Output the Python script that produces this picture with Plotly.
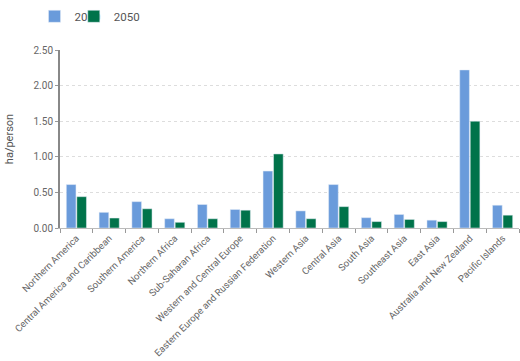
import plotly.graph_objects as go

regions = ["Northern America", "Central America and Caribbean", "Southern America",
           "Northern Africa", "Sub-Saharan Africa", "Western and Central Europe",
           "Eastern Europe and Russian Federation", "Western Asia", "Central Asia",
           "South Asia", "Southeast Asia", "East Asia", "Australia and New Zealand",
           "Pacific Islands"]
values_2000 = [0.61, 0.22, 0.37, 0.13, 0.33, 0.26, 0.80, 0.24, 0.61, 0.145, 0.19, 0.11, 2.22, 0.32]
values_2050 = [0.44, 0.14, 0.27, 0.08, 0.13, 0.25, 1.04, 0.13, 0.30, 0.09, 0.12, 0.09, 1.50, 0.18]
y_ticks = [0, 0.5, 1.0, 1.5, 2.0, 2.5]

fig = go.Figure()
fig.add_trace(go.Bar(name="2000", x=regions, y=values_2000, marker_color="#6a9bdb", legend="legend2"))
fig.add_trace(go.Bar(name="2050", x=regions, y=values_2050, marker_color="#00734a", legend="legend3"))

font_color = "#666666"
leg_common = dict(orientation="h", xref="paper", yref="container",
                  y=0.995, xanchor="left", yanchor="top",
                  font=dict(size=11.5, color="#555555"), itemwidth=30,
                  bgcolor="rgba(0,0,0,0)")
fig.update_layout(
    width=520, height=361,
    margin=dict(l=60, r=1, t=50, b=133),
    paper_bgcolor="white", plot_bgcolor="white",
    font=dict(family="Roboto", size=10, color=font_color),
    barmode="group", bargap=0.36, bargroupgap=0.08,
    showlegend=True,
    legend2=dict(x=-0.0555, **leg_common),
    legend3=dict(x=0.030, **leg_common),
)
fig.update_xaxes(
    automargin=False,
    tickangle=-45, tickson="boundaries", ticks="outside", ticklen=4,
    tickcolor="#999999", showline=True, linecolor="#bbbbbb", linewidth=1,
    showgrid=False, tickfont=dict(size=9.6, color=font_color),
)
fig.update_yaxes(
    automargin=False,
    range=[0, 2.5], tickvals=y_ticks, tickformat=".2f",
    showline=True, linecolor="#888888", linewidth=2,
    ticks="outside", ticklen=3, tickcolor="#999999",
    showgrid=True, gridcolor="#dddddd", griddash="dot", gridwidth=1,
    zeroline=False,
    title=dict(text="ha/person", font=dict(size=11, color="#555555"), standoff=18),
    tickfont=dict(size=10, color=font_color),
)
fig.write_html("out.html", config={"displayModeBar": False},
               post_script="document.body.style.margin='0';document.body.style.overflow='hidden';")
